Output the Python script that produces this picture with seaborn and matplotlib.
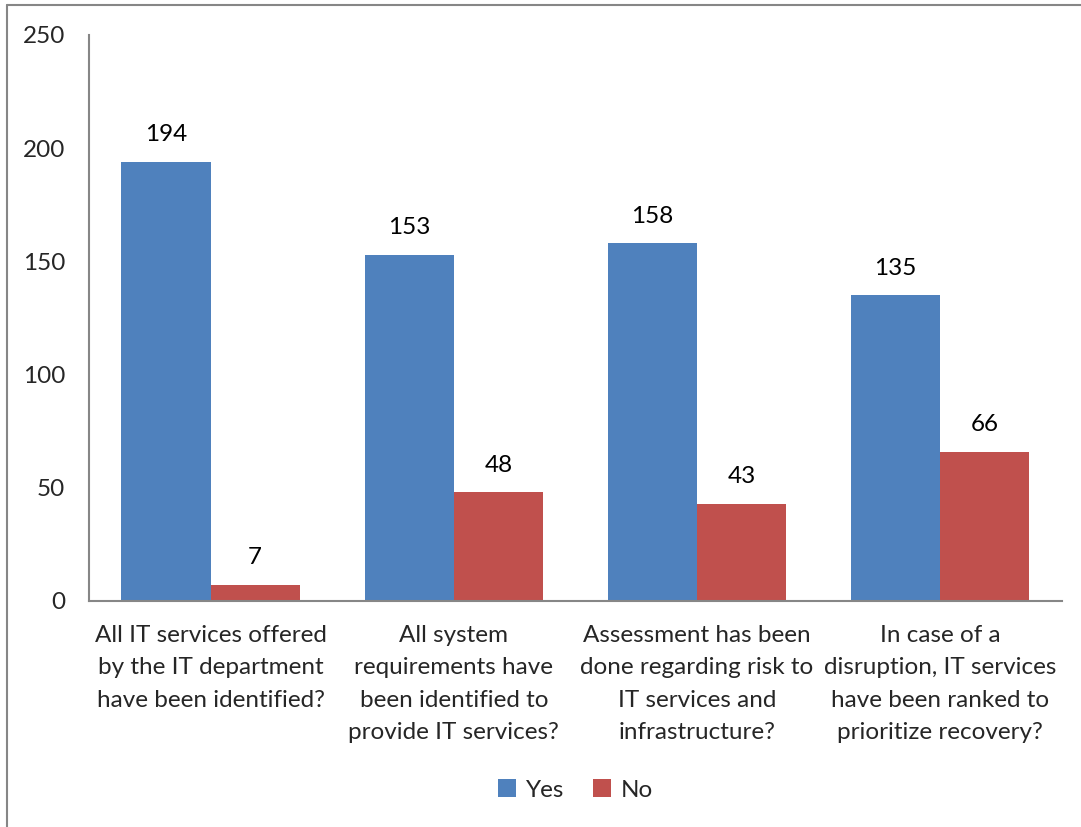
import matplotlib
matplotlib.use("Agg")
import matplotlib.pyplot as plt
from matplotlib.lines import Line2D
import seaborn as sns
import pandas as pd

categories = [
    "All IT services offered\nby the IT department\nhave been identified?",
    "All system\nrequirements have\nbeen identified to\nprovide IT services?",
    "Assessment has been\ndone regarding risk to\nIT services and\ninfrastructure?",
    "In case of a\ndisruption, IT services\nhave been ranked to\nprioritize recovery?",
]
yes_values = [194, 153, 158, 135]
no_values = [7, 48, 43, 66]
series = ["Yes", "No"]
colors = ["#4F81BD", "#C0504D"]
y_ticks = [0, 50, 100, 150, 200, 250]

df = pd.DataFrame({
    "question": categories * 2,
    "answer": [series[0]] * len(categories) + [series[1]] * len(categories),
    "count": yes_values + no_values,
})

sns.set_theme(style="white")
plt.rcParams["font.family"] = ["Lato", "DejaVu Sans"]

FS = 17.5

fig = plt.figure(figsize=(10.81, 8.27), dpi=100)
ax = fig.add_axes([0.0823, 0.2733, 0.900, 0.6844])

sns.barplot(data=df, x="question", y="count", hue="answer", order=categories,
            hue_order=series, palette=colors, width=0.733, saturation=1,
            edgecolor="none", linewidth=0, ax=ax, legend=True)

for container in ax.containers:
    ax.bar_label(container, padding=12, fontsize=FS, color="#000000")

ax.set_ylim(0, 250)
ax.set_xlim(-0.5, 3.5)
ax.set_yticks(y_ticks)
ax.set_yticklabels([str(v) for v in y_ticks], fontsize=FS)
ax.tick_params(axis="y", length=0, pad=17)
ax.tick_params(axis="x", length=0, pad=17, labelsize=FS)
ax.set_xlabel("")
ax.set_ylabel("")
for lbl in ax.get_xticklabels():
    lbl.set_linespacing(1.68)

for side in ("top", "right"):
    ax.spines[side].set_visible(False)
for side in ("left", "bottom"):
    ax.spines[side].set_color("#868686")
    ax.spines[side].set_linewidth(1.5)

ax.legend(loc="center", bbox_to_anchor=(0.5, -0.334), ncol=2, frameon=False,
          fontsize=FS, handlelength=0.75, handleheight=0.75,
          handletextpad=0.4, columnspacing=1.2)

# outer chart frame (left and top edges)
fig.add_artist(Line2D([0.0065, 0.0065], [0.0, 0.994], transform=fig.transFigure,
                      color="#868686", linewidth=1.5))
fig.add_artist(Line2D([0.0065, 1.0], [0.994, 0.994], transform=fig.transFigure,
                      color="#868686", linewidth=1.5))

fig.savefig("out.png", dpi=100, facecolor="white")
